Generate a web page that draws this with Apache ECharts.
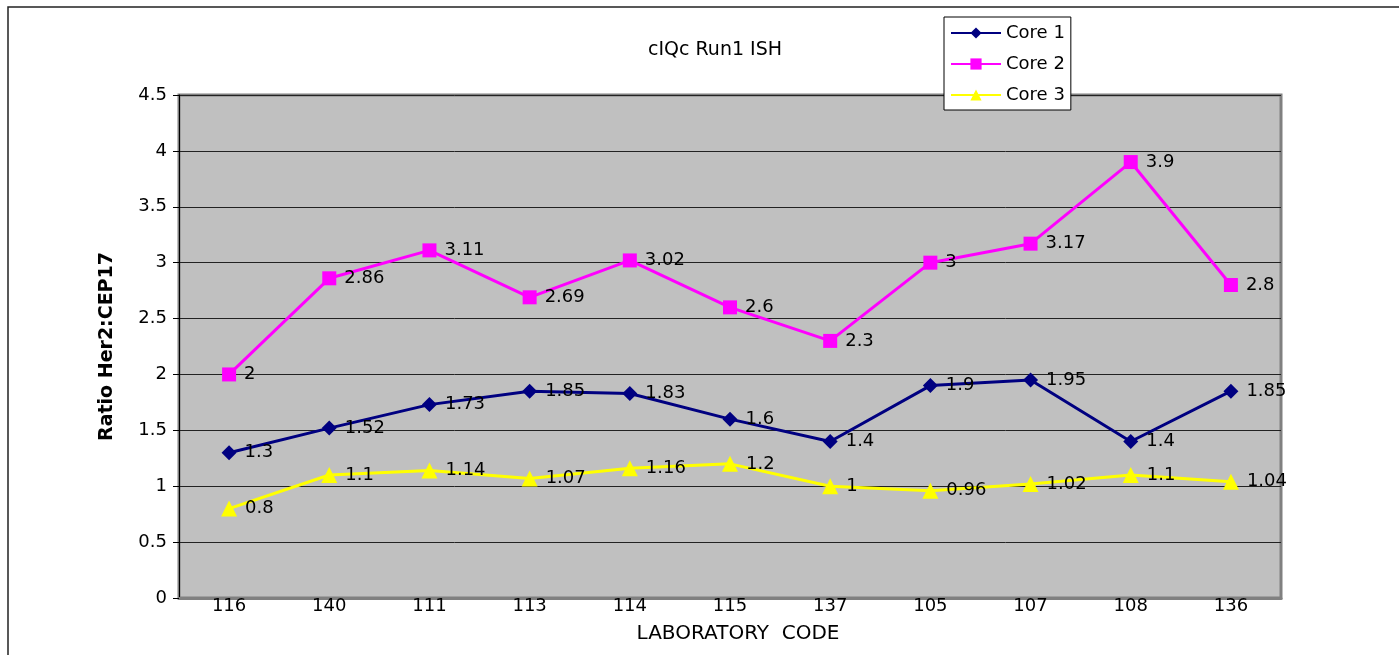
<!DOCTYPE html>
<html><head><meta charset="utf-8">
<script src="https://cdn.jsdelivr.net/npm/echarts@6/dist/echarts.min.js"></script>
<style>html,body{margin:0;padding:0;background:#fff}#c{width:1399px;height:655px}</style>
</head><body><div id="c"></div>
<script>
const categories = ['116','140','111','113','114','115','137','105','107','108','136'];
const core1 = [1.3,1.52,1.73,1.85,1.83,1.6,1.4,1.9,1.95,1.4,1.85];
const core2 = [2,2.86,3.11,2.69,3.02,2.6,2.3,3,3.17,3.9,2.8];
const core3 = [0.8,1.1,1.14,1.07,1.16,1.2,1,0.96,1.02,1.1,1.04];
const seriesNames = ['Core 1','Core 2','Core 3'];
const FONT = '"DejaVu Sans", Arial, sans-serif';
const chart = echarts.init(document.getElementById('c'), null, {renderer:'canvas'});
function mk(name, data, color, symbol, size){
  return {name, type:'line', data, color, symbol, symbolSize:size,
    lineStyle:{color, width:3}, itemStyle:{color},
    label:{show:true, position:'right', distance:8, color:'#000', fontSize:18, fontFamily:FONT},
    animation:false, z:3};
}
chart.setOption({
  animation:false,
  backgroundColor:'#fff',
  title:{text:'cIQc Run1 ISH', left:710, top:36, textAlign:'center',
    textStyle:{fontSize:19, fontWeight:'normal', color:'#000', fontFamily:FONT}},
  legend:{data:seriesNames.map(n=>({name:n})), orient:'vertical', left:944, top:17,
    itemWidth:50, itemHeight:14, itemGap:13,
    textStyle:{fontSize:18, color:'#000', fontFamily:FONT},
    borderColor:'#000', borderWidth:1, padding:[7,6,6,6], backgroundColor:'#fff'},
  grid:{left:179, right:118, top:95, bottom:57, show:true, backgroundColor:'#C0C0C0',
    borderColor:'#808080', borderWidth:3},
  xAxis:{type:'category', data:categories, boundaryGap:true,
    axisLine:{lineStyle:{color:'#808080', width:3}},
    axisTick:{show:false},
    axisLabel:{color:'#000', fontSize:18, fontFamily:FONT, margin:-1},
    name:'LABORATORY  CODE', nameLocation:'middle', nameGap:26,
    nameTextStyle:{color:'#000', fontSize:20, fontFamily:FONT, padding:[0,0,0,16]}},
  yAxis:{type:'value', min:0, max:4.5, interval:0.5,
    axisLine:{show:true, lineStyle:{color:'#000', width:1}},
    axisTick:{show:true, length:6, lineStyle:{color:'#000'}},
    axisLabel:{color:'#000', fontSize:18, fontFamily:FONT, margin:12},
    splitLine:{lineStyle:{color:'#222', width:1}},
    name:'Ratio Her2:CEP17', nameLocation:'middle', nameGap:62,
    nameTextStyle:{color:'#000', fontSize:19, fontWeight:'bold', fontFamily:FONT}},
  graphic:[{type:'rect', shape:{x:8, y:7, width:1500, height:800}, style:{fill:'none', stroke:'#222', lineWidth:1.5}, z:-1}],
  series:[
    mk('Core 1', core1, '#000080', 'diamond', 15),
    mk('Core 2', core2, '#FF00FF', 'rect', 14),
    mk('Core 3', core3, '#FFFF00', 'triangle', 16)
  ]
});
</script></body></html>
